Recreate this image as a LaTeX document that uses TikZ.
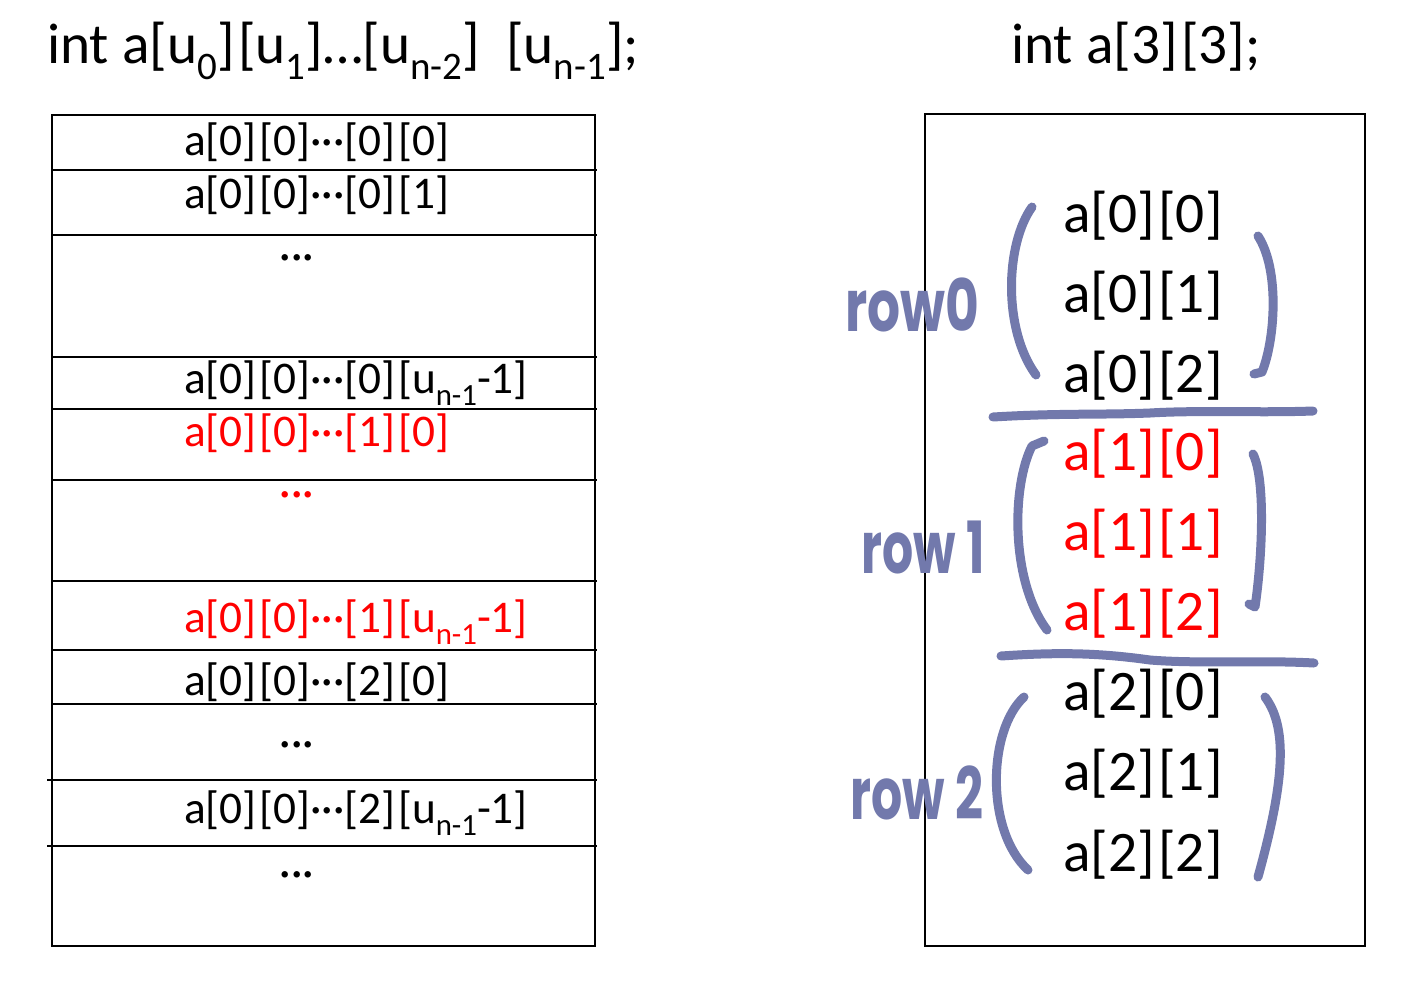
\documentclass[tikz,border=0pt]{standalone}
\usepackage{fontspec}
\usepackage{graphicx}
\setmainfont{Carlito}
\newfontfamily\handfont{Poppins}
\definecolor{handc}{RGB}{114,121,172}
\newcommand\lowsub[1]{\raisebox{-0.28em}{\scalebox{0.68}{#1}}}
\newcommand\gp{\kern0.06em}
\begin{document}
\begin{tikzpicture}[x=0.75pt,y=-0.75pt,
  cellline/.style={draw=black,line width=1.5pt},
  lbl/.style={anchor=base west,inner sep=0pt,font=\fontsize{34}{40}\selectfont},
  dotsl/.style={anchor=base,inner sep=0pt,font=\fontsize{34}{40}\selectfont},
  rt/.style={anchor=base west,inner sep=0pt,font=\fontsize{43}{50}\selectfont},
  ttl/.style={anchor=base west,inner sep=0pt,font=\fontsize{43}{50}\selectfont},
  pen/.style={draw=handc,line width=6.75pt,line cap=round,line join=round},
  hand/.style={text=handc,inner sep=0pt,font=\handfont\bfseries\fontsize{54}{60}\selectfont}]
\useasboundingbox (0,0) rectangle (1404,1000);
% titles
\node[ttl] (t1) at (47,63) {int a[u\lowsub{0}]\gp[u\lowsub{1}]…[u\lowsub{n-2}]\ \ [u\lowsub{n-1}];};
\node[ttl] (t2) at (1011,63) {int a[3]\gp[3];};
% left memory box
\draw[cellline] (52,115) rectangle (595,946);
\foreach \yy in {170,235,357,409,480,581,650,704}{\draw[cellline] (52,\yy) -- (597,\yy);}
\foreach \yy in {780,846}{\draw[cellline] (47,\yy) -- (597,\yy);}
\node[lbl] (l1) at (184,155) {a[0]\gp[0]···[0]\gp[0]};
\node[lbl] (l2) at (184,208) {a[0]\gp[0]···[0]\gp[1]};
\node[dotsl] (d1) at (297,270) {···};
\node[lbl] (l3) at (184,393) {a[0]\gp[0]···[0]\gp[u\lowsub{n-1}-1]};
\node[lbl,text=red] (l4) at (184,446) {a[0]\gp[0]···[1]\gp[0]};
\node[dotsl,text=red] (d2) at (297,507) {···};
\node[lbl,text=red] (l5) at (184,632) {a[0]\gp[0]···[1]\gp[u\lowsub{n-1}-1]};
\node[lbl] (l6) at (184,695) {a[0]\gp[0]···[2]\gp[0]};
\node[dotsl] (d3) at (297,757) {···};
\node[lbl] (l7) at (184,823) {a[0]\gp[0]···[2]\gp[u\lowsub{n-1}-1]};
\node[dotsl] (d4) at (297,887) {···};
% right box
\draw[cellline] (925,114) rectangle (1365,946);
\node[rt] (r00) at (1063,232) {a[0]\gp[0]};
\node[rt] (r01) at (1063,312) {a[0]\gp[1]};
\node[rt] (r02) at (1063,392) {a[0]\gp[2]};
\node[rt,text=red] (r10) at (1063,470) {a[1]\gp[0]};
\node[rt,text=red] (r11) at (1063,550) {a[1]\gp[1]};
\node[rt,text=red] (r12) at (1063,630) {a[1]\gp[2]};
\node[rt] (r20) at (1063,710) {a[2]\gp[0]};
\node[rt] (r21) at (1063,790) {a[2]\gp[1]};
\node[rt] (r22) at (1063,871) {a[2]\gp[2]};
% hand-drawn brackets and separators
\draw[pen] (1032,207) .. controls (1005,245) and (1003,330) .. (1036,375);
\draw[pen] (1258,236) .. controls (1280,270) and (1275,340) .. (1262,372) -- (1254,374);
\draw[pen] (993,417) .. controls (1060,413) and (1100,415) .. (1150,413) .. controls (1200,410) and (1260,413) .. (1313,411);
\draw[pen] (1044,441) -- (1032,446) .. controls (1012,485) and (1010,580) .. (1047,630);
\draw[pen] (1253,454) .. controls (1266,480) and (1262,560) .. (1255,607) -- (1249,604);
\draw[pen] (1001,656) .. controls (1060,652) and (1100,653) .. (1150,660) .. controls (1200,664) and (1260,660) .. (1314,663);
\draw[pen] (1024,697) .. controls (988,730) and (985,830) .. (1028,870);
\draw[pen] (1265,697) .. controls (1290,730) and (1282,790) .. (1258,877);
% hand-written labels
\node[hand] (h0) at (912,305) {\scalebox{0.72}[1]{row0}};
\node[hand] (h1) at (923,548) {\scalebox{0.68}[1]{row 1}};
\node[hand] (h2) at (917,793) {\scalebox{0.68}[1]{row 2}};
\end{tikzpicture}
\end{document}
